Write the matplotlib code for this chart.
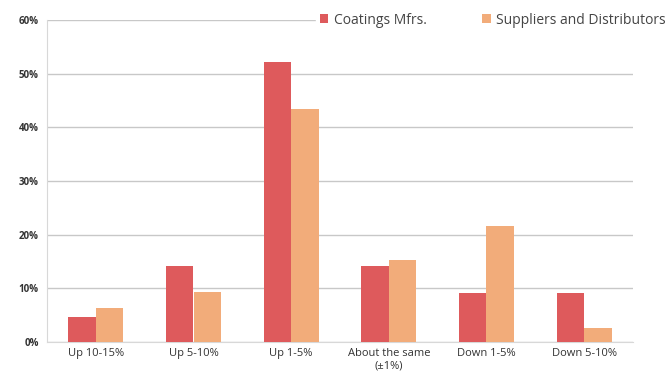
import matplotlib
matplotlib.use("Agg")
import matplotlib.pyplot as plt
import numpy as np

categories = ["Up 10-15%", "Up 5-10%", "Up 1-5%", "About the same\n(±1%)", "Down 1-5%", "Down 5-10%"]
coatings_mfrs = [4.7, 14.2, 52.2, 14.1, 9.2, 9.2]
suppliers = [6.4, 9.3, 43.5, 15.3, 21.7, 2.7]
yticks = [0, 10, 20, 30, 40, 50, 60]
ytick_labels = ["0%", "10%", "20%", "30%", "40%", "50%", "60%"]

red = "#DE5A5C"
orange = "#F2AC7A"

plt.rcParams['font.family'] = ['Open Sans', 'DejaVu Sans']

fig = plt.figure(figsize=(6.7, 3.74), dpi=100)
ax = fig.add_axes([47/670, 1 - 342/374, (633-47)/670, (342-20)/374])

x = np.arange(len(categories))
w = 0.28
ax.bar(x - w/2, coatings_mfrs, width=w, color=red, label="Coatings Mfrs.", zorder=3)
ax.bar(x + w/2, suppliers, width=w, color=orange, label="Suppliers and Distributors", zorder=3)

ax.set_xlim(-0.5, 5.5)
ax.set_ylim(0, 60)
ax.set_yticks(yticks)
ax.set_yticklabels(ytick_labels, fontsize=7, color="#333333", fontweight="bold")
ax.set_xticks(x)
ax.set_xticklabels(categories, fontsize=8, color="#333333", linespacing=1.25)
ax.tick_params(axis="both", length=0, pad=6)
ax.tick_params(axis="x", pad=4)

ax.yaxis.grid(True, color="#c8c8c8", linewidth=1.0, zorder=0)
ax.set_axisbelow(True)
for s in ["top", "right"]:
    ax.spines[s].set_visible(False)
ax.spines["left"].set_color("#d8d8d8")
ax.spines["bottom"].set_color("#d8d8d8")

leg = fig.legend(loc="upper right", bbox_to_anchor=(1.005, 0.987), ncol=2, frameon=True,
                 fontsize=10, handlelength=0.6, handleheight=0.6, handletextpad=0.4,
                 columnspacing=4.0, borderaxespad=0.25, borderpad=0.3)
leg.get_frame().set_facecolor("white")
leg.get_frame().set_edgecolor("white")
leg.get_frame().set_alpha(1)
for t in leg.get_texts():
    t.set_color("#444444")

fig.savefig("out.png", dpi=100, facecolor="white")
